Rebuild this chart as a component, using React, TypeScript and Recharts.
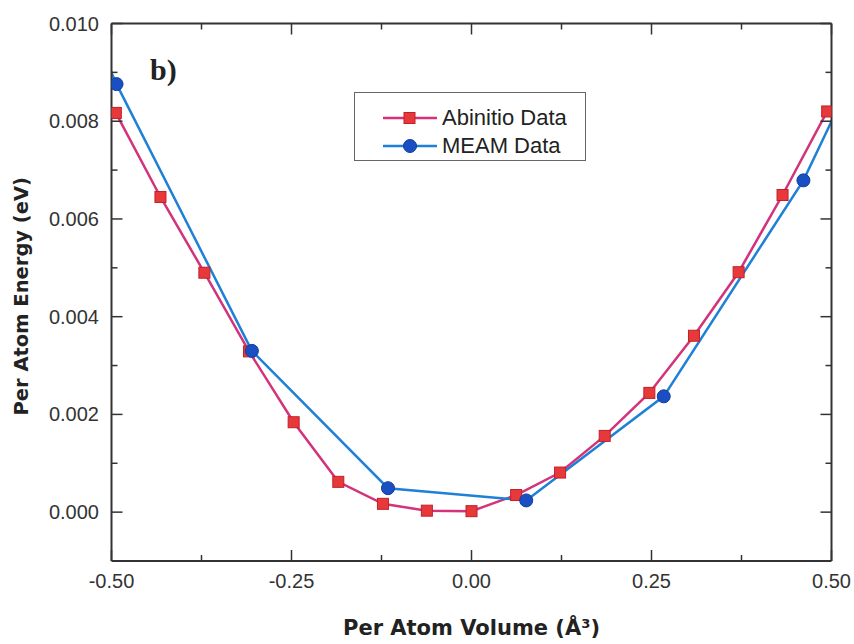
import { LineChart, Line, XAxis, YAxis, Legend } from 'recharts';

// volume axis ticks (major every 0.25, minor in between)
const volumeTicks = [-0.5, -0.375, -0.25, -0.125, 0, 0.125, 0.25, 0.375, 0.5];
// energy axis ticks (major every 0.002, minor in between)
const energyTicks = [0, 0.001, 0.002, 0.003, 0.004, 0.005, 0.006, 0.007, 0.008, 0.009, 0.01];

const abinitioVolume = [
  -0.494, -0.432, -0.371, -0.309, -0.247, -0.185, -0.123, -0.062, 0,
  0.062, 0.123, 0.185, 0.247, 0.309, 0.371, 0.432, 0.494,
];
const abinitioEnergy = [
  0.00817, 0.00645, 0.0049, 0.00329, 0.00184, 0.00062, 0.00017, 0.00003, 0.00002,
  0.00035, 0.00081, 0.00156, 0.00244, 0.00361, 0.00491, 0.00649, 0.0082,
];

// first and last MEAM points sit outside the plotted window (clipped)
const meamVolume = [-0.685, -0.493, -0.305, -0.116, 0.076, 0.267, 0.461, 0.652];
const meamEnergy = [0.015, 0.00876, 0.0033, 0.00049, 0.00024, 0.00237, 0.00679, 0.0127];

const abinitioData = abinitioVolume.map((v, i) => ({ volume: v, energy: abinitioEnergy[i] }));
const meamData = meamVolume.map((v, i) => ({ volume: v, energy: meamEnergy[i] }));

const AXIS = '#333';
const TEXT = '#333';
const RED_LINE = '#d2337a';
const RED_FILL = '#e8393a';
const RED_EDGE = '#c21f2a';
const BLUE_LINE = '#1f80d8';
const BLUE_FILL = '#1a4fc4';
const BLUE_EDGE = '#143c9c';
const SANS = '"Liberation Sans", Arial, sans-serif';
const HEAVY = '"DejaVu Sans", sans-serif';

const isMajorX = (v: number) => Math.abs(v * 4 - Math.round(v * 4)) < 1e-6;
const isMajorY = (v: number) => Math.abs(v * 500 - Math.round(v * 500)) < 1e-6;

// ticks point into the plot, Origin style
const BottomTick = ({ x, y, payload }: any) => {
  const major = isMajorX(payload.value);
  return (
    <g>
      <line x1={x} x2={x} y1={y} y2={y - (major ? 11 : 6)} stroke={AXIS} strokeWidth={1.5} />
      {major && (
        <text x={x} y={y + 27} textAnchor="middle" fontSize={20} fontFamily={SANS} fill={TEXT}>
          {payload.value.toFixed(2)}
        </text>
      )}
    </g>
  );
};

const TopTick = ({ x, y, payload }: any) => {
  const major = isMajorX(payload.value);
  return <line x1={x} x2={x} y1={y} y2={y + (major ? 11 : 6)} stroke={AXIS} strokeWidth={1.5} />;
};

const LeftTick = ({ x, y, payload }: any) => {
  const major = isMajorY(payload.value);
  return (
    <g>
      <line x1={x} x2={x + (major ? 11 : 6)} y1={y} y2={y} stroke={AXIS} strokeWidth={1.5} />
      {major && (
        <text x={x - 12.5} y={y + 7} textAnchor="end" fontSize={20} fontFamily={SANS} fill={TEXT}>
          {payload.value.toFixed(3)}
        </text>
      )}
    </g>
  );
};

const RightTick = ({ x, y, payload }: any) => {
  const major = isMajorY(payload.value);
  return <line x1={x} x2={x - (major ? 11 : 6)} y1={y} y2={y} stroke={AXIS} strokeWidth={1.5} />;
};

const EnergyTitle = ({ viewBox }: any) => {
  const cx = 21;
  const cy = viewBox.y + viewBox.height / 2 + 4;
  return (
    <text
      x={cx}
      y={cy}
      transform={`rotate(-90, ${cx}, ${cy})`}
      textAnchor="middle"
      dominantBaseline="central"
      fontFamily={HEAVY}
      fontWeight="bold"
      fontSize={19.5}
      fill="#222"
    >
      Per Atom Energy (eV)
    </text>
  );
};

const SquareDot = ({ cx, cy, index }: any) => (
  <rect key={index} x={cx - 5.5} y={cy - 5.5} width={11} height={11} fill={RED_FILL} stroke={RED_EDGE} strokeWidth={1} />
);

const CircleDot = ({ cx, cy, index }: any) => (
  <circle key={index} cx={cx} cy={cy} r={6.5} fill={BLUE_FILL} stroke={BLUE_EDGE} strokeWidth={1} />
);

const LegendBox = ({ payload }: any) => (
  <div
    style={{
      position: 'relative',
      width: 232,
      height: 69,
      boxSizing: 'border-box',
      border: '1.5px solid #666',
      background: '#fff',
    }}
  >
    {(payload || []).map((entry: any, i: number) => {
      const square = entry.value === 'Abinitio Data';
      return (
        <div
          key={entry.value}
          style={{
            position: 'absolute',
            left: 27,
            top: 13 + i * 28,
            height: 24,
            display: 'flex',
            alignItems: 'center',
          }}
        >
          <svg width={56} height={24}>
            <line x1={1} x2={55} y1={12} y2={12} stroke={entry.color} strokeWidth={2.5} />
            {square ? (
              <rect x={22} y={6.5} width={11} height={11} fill={RED_FILL} stroke={RED_EDGE} />
            ) : (
              <circle cx={28} cy={12} r={6.5} fill={BLUE_FILL} stroke={BLUE_EDGE} />
            )}
          </svg>
          <span style={{ marginLeft: 4, fontFamily: SANS, fontSize: 22, color: '#222' }}>{entry.value}</span>
        </div>
      );
    })}
  </div>
);

export default function App() {
  return (
    <div style={{ position: 'relative', width: 854, height: 644 }}>
      <style>{'body { margin: 0; }'}</style>
      <LineChart width={854} height={644} margin={{ top: 22.5, right: 21.5, bottom: 0, left: 0 }}>
        <XAxis
          xAxisId="bottom"
          dataKey="volume"
          type="number"
          orientation="bottom"
          domain={[-0.5, 0.5]}
          ticks={volumeTicks}
          interval={0}
          allowDataOverflow
          height={83}
          tickSize={0}
          tickMargin={0}
          tickLine={false}
          tick={BottomTick}
          axisLine={{ stroke: AXIS, strokeWidth: 2 }}
          label={{
            value: 'Per Atom Volume (Å³)',
            position: 'insideBottom',
            offset: 9,
            fontFamily: HEAVY,
            fontWeight: 'bold',
            fontSize: 21,
            fill: '#222',
          }}
        />
        <XAxis
          xAxisId="top"
          dataKey="volume"
          type="number"
          orientation="top"
          domain={[-0.5, 0.5]}
          ticks={volumeTicks}
          interval={0}
          allowDataOverflow
          height={1}
          tickSize={0}
          tickMargin={0}
          tickLine={false}
          tick={TopTick}
          axisLine={{ stroke: AXIS, strokeWidth: 2 }}
        />
        <YAxis
          yAxisId="left"
          type="number"
          orientation="left"
          domain={[-0.001, 0.01]}
          ticks={energyTicks}
          interval={0}
          allowDataOverflow
          width={111.5}
          tickSize={0}
          tickMargin={0}
          tickLine={false}
          tick={LeftTick}
          axisLine={{ stroke: AXIS, strokeWidth: 2 }}
          label={<EnergyTitle />}
        />
        <YAxis
          yAxisId="right"
          type="number"
          orientation="right"
          domain={[-0.001, 0.01]}
          ticks={energyTicks}
          interval={0}
          allowDataOverflow
          width={1}
          tickSize={0}
          tickMargin={0}
          tickLine={false}
          tick={RightTick}
          axisLine={{ stroke: AXIS, strokeWidth: 2 }}
        />
        <Legend
          layout="horizontal"
          verticalAlign="middle"
          align="center"
          content={LegendBox}
          wrapperStyle={{ left: 354, top: 92, width: 232, height: 69 }}
        />
        <Line
          xAxisId="bottom"
          yAxisId="left"
          data={abinitioData}
          dataKey="energy"
          name="Abinitio Data"
          type="linear"
          stroke={RED_LINE}
          strokeWidth={2.5}
          dot={SquareDot}
          activeDot={false}
          isAnimationActive={false}
        />
        <Line
          xAxisId="bottom"
          yAxisId="left"
          data={meamData}
          dataKey="energy"
          name="MEAM Data"
          type="linear"
          stroke={BLUE_LINE}
          strokeWidth={2.5}
          dot={CircleDot}
          activeDot={false}
          isAnimationActive={false}
        />
      </LineChart>
      <div
        style={{
          position: 'absolute',
          left: 150,
          top: 53,
          fontFamily: '"Liberation Serif", serif',
          fontWeight: 'bold',
          fontSize: 30,
          color: '#222',
          pointerEvents: 'none',
        }}
      >
        b)
      </div>
    </div>
  );
}
